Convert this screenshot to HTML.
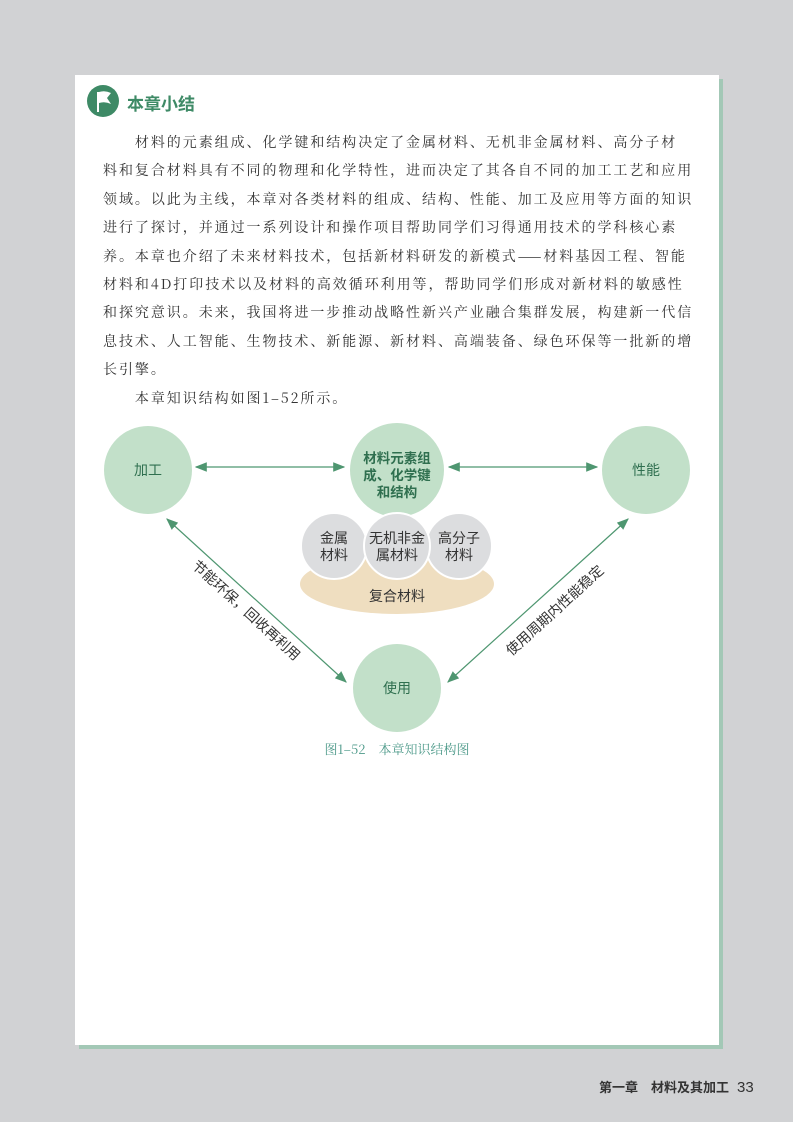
<!DOCTYPE html>
<html><head><meta charset="utf-8"><style>
body{margin:0;width:793px;height:1122px;background:#d1d2d4;position:relative;overflow:hidden;font-family:"Liberation Sans","Noto Sans CJK SC",sans-serif}
.shadow{position:absolute;left:79px;top:79px;width:644px;height:970px;background:#a3c8b6}
.page{position:absolute;left:75px;top:75px;width:644px;height:970px;background:#fff}
.title{position:absolute;left:127px;top:90px;font-size:17px;color:#3e8a66;font-weight:bold}
.txt{position:absolute;left:103px;top:128px;width:620px;font-family:"Noto Serif CJK SC","Liberation Serif",serif;font-size:14px;letter-spacing:1.95px;line-height:28.4px;color:#333;white-space:nowrap}
.foot{position:absolute;left:599px;top:1077px;font-size:13px;color:#333;font-weight:bold}
.foot span{font-weight:normal;font-size:15px;margin-left:8px}
</style></head><body>
<div class="shadow"></div><div class="page"></div>
<svg style="position:absolute;left:0;top:0" width="793" height="1122">
<circle cx="103" cy="101" r="16" fill="#3e8a66"/>
<path d="M98 92 L98 112" stroke="#fff" stroke-width="2"/>
<path d="M99 92 Q105 90 111 93 L107 98 L111 104 Q105 101 99 103 Z" fill="#fff"/>
<defs><marker id="a" markerWidth="10" markerHeight="8" refX="9" refY="4" orient="auto-start-reverse"><path d="M0 0 L10 4 L0 8 Z" fill="#4e9670"/></marker></defs>
<g stroke="#4e9670" stroke-width="1.2" fill="none">
<line x1="196" y1="467" x2="344" y2="467" marker-start="url(#a)" marker-end="url(#a)"/>
<line x1="449" y1="467" x2="597" y2="467" marker-start="url(#a)" marker-end="url(#a)"/>
<line x1="167" y1="519" x2="346" y2="682" marker-start="url(#a)" marker-end="url(#a)"/>
<line x1="628" y1="519" x2="448" y2="682" marker-start="url(#a)" marker-end="url(#a)"/>
</g>
<circle cx="148" cy="470" r="44" fill="#c2e0c9"/>
<circle cx="646" cy="470" r="44" fill="#c2e0c9"/>
<circle cx="397" cy="688" r="44" fill="#c2e0c9"/>
<circle cx="397" cy="470" r="47" fill="#c2e0c9"/>
<ellipse cx="397" cy="584" rx="97" ry="30" fill="#efdec0"/>
<g fill="#dcdddf" stroke="#fff" stroke-width="2">
<circle cx="334" cy="546" r="33"/><circle cx="459" cy="546" r="33"/><circle cx="397" cy="546" r="33"/>
</g>
<g font-family="Liberation Sans, Noto Sans CJK SC, sans-serif" font-size="14" text-anchor="middle" fill="#333">
<text x="148" y="475" fill="#2f6f4f">加工</text>
<text x="646" y="475" fill="#2f6f4f">性能</text>
<text x="397" y="693" fill="#2f6f4f">使用</text>
<g fill="#2f6f4f" font-weight="bold" font-size="13.5"><text x="397" y="463">材料元素组</text><text x="397" y="480">成、化学键</text><text x="397" y="497">和结构</text></g>
<text x="334" y="543">金属</text><text x="334" y="560">材料</text>
<text x="397" y="543">无机非金</text><text x="397" y="560">属材料</text>
<text x="459" y="543">高分子</text><text x="459" y="560">材料</text>
<text x="397" y="601">复合材料</text>
<text transform="translate(243,614) rotate(42.3)">节能环保，回收再利用</text>
<text transform="translate(558,614) rotate(-42.3)">使用周期内性能稳定</text>
<text x="397" y="754" font-family="Noto Serif CJK SC, serif" fill="#4e9a8a" font-size="13">图1–52　本章知识结构图</text>
</g>
</svg>
<div class="title">本章小结</div>
<div class="txt">　　材料的元素组成、化学键和结构决定了金属材料、无机非金属材料、高分子材<br>料和复合材料具有不同的物理和化学特性，进而决定了其各自不同的加工工艺和应用<br>领域。以此为主线，本章对各类材料的组成、结构、性能、加工及应用等方面的知识<br>进行了探讨，并通过一系列设计和操作项目帮助同学们习得通用技术的学科核心素<br>养。本章也介绍了未来材料技术，包括新材料研发的新模式——材料基因工程、智能<br>材料和4D打印技术以及材料的高效循环利用等，帮助同学们形成对新材料的敏感性<br>和探究意识。未来，我国将进一步推动战略性新兴产业融合集群发展，构建新一代信<br>息技术、人工智能、生物技术、新能源、新材料、高端装备、绿色环保等一批新的增<br>长引擎。<br>　　本章知识结构如图1–52所示。</div>
<div class="foot">第一章　材料及其加工<span>33</span></div>
</body></html>
